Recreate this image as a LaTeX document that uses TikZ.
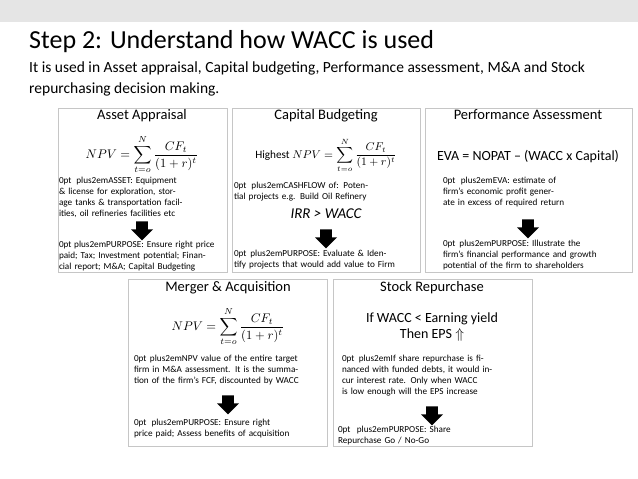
\documentclass[tikz,border=0pt]{standalone}
\usepackage{amsmath}
\usepackage{fontspec}
\setmainfont{Carlito}
\usetikzlibrary{shapes.arrows}
\tikzset{
	panel/.style   = {draw=gray!45, fill=white, line width=0.8pt},
	head/.style    = {font=\fontsize{14.5}{16}\selectfont, anchor=north, inner sep=1pt},
	body/.style    = {font=\fontsize{9.2}{11}\selectfont\hyphenpenalty=10000, align=center, text width=#1, inner sep=0pt},
	formula/.style = {scale=1.25, inner sep=0pt},
	downarrow/.style = {single arrow, fill=black, draw=none, shape border rotate=270,
		minimum height=19pt, minimum width=22pt, single arrow head extend=2pt, inner sep=2pt},
}
\newcommand{\npvsum}{\sum_{t=o}^{N}\frac{CF_t}{(1+r)^t}}

\begin{document}
\begin{tikzpicture}[x=1pt, y=-1pt]

    %-- Background and title --%
    \useasboundingbox (0,0) rectangle (638,479);
    \fill[gray!20] (0,0) rectangle (638,22);
    \node[anchor=west, inner sep=0pt, font=\fontsize{26}{30}\selectfont] (title) at (29,42) {Step 2: Understand how WACC is used};
    \node[anchor=north west, inner sep=0pt, align=left, font=\fontsize{15.5}{21}\selectfont] (intro) at (29,62)
      {It is used in Asset appraisal, Capital budgeting, Performance assessment, M\&A and Stock\\repurchasing decision making.};

    %-- Panels --%
    \draw[panel] (58,108) rectangle (227,272);
    \draw[panel] (232,108) rectangle (420,272);
    \draw[panel] (425,108) rectangle (632,272);
    \draw[panel] (128,279) rectangle (327,446);
    \draw[panel] (333,279) rectangle (532,446);

    % ASSET APPRAISAL %
    \node[head] (assetHead) at (142,108) {Asset Appraisal};
    \node[formula] (assetNpv) at (142,155) {$NPV=\displaystyle\npvsum$};
    \node[body=166pt] (assetText) at (142,197) {ASSET: Equipment \& license for exploration, storage tanks \& transportation facilities, oil refineries facilities etc};
    \node[downarrow] (assetArrow) at (142,228) {};
    \node[body=166pt] (assetGoal) at (142,256) {PURPOSE: Ensure right price paid; Tax; Investment potential; Financial report; M\&A; Capital Budgeting};

    % CAPITAL BUDGETING %
    \node[head] (budgetHead) at (326,108) {Capital Budgeting};
    \node[formula] (budgetNpv) at (326,155) {\fontsize{9}{11}\selectfont Highest $NPV=\displaystyle\npvsum$};
    \node[body=184pt] (budgetText) at (326,192) {CASHFLOW of: Potential projects e.g. Build Oil Refinery};
    \node[font=\fontsize{15}{17}\selectfont\itshape] (budgetRule) at (326,214) {IRR > WACC};
    \node[downarrow] (budgetArrow) at (326,236) {};
    \node[body=184pt] (budgetGoal) at (326,260) {PURPOSE: Evaluate \& Identify projects that would add value to Firm};

    % PERFORMANCE ASSESSMENT %
    \node[head] (perfHead) at (528,108) {Performance Assessment};
    \node[font=\fontsize{14}{16}\selectfont] (perfEva) at (528,157) {EVA = NOPAT -- (WACC x Capital)};
    \node[body=170pt] (perfText) at (528,192) {EVA: estimate of firm's economic profit generate in excess of required return};
    \node[downarrow] (perfArrow) at (528,226) {};
    \node[body=170pt] (perfGoal) at (528,255) {PURPOSE: Illustrate the firm's financial performance and growth potential of the firm to shareholders};

    % MERGER AND ACQUISITION %
    \node[head] (mergerHead) at (228,280) {Merger \& Acquisition};
    \node[formula] (mergerNpv) at (228,327) {$NPV=\displaystyle\npvsum$};
    \node[body=188pt] (mergerText) at (228,370) {NPV value of the entire target firm in M\&A assessment. It is the summation of the firm's FCF, discounted by WACC};
    \node[downarrow] (mergerArrow) at (228,402) {};
    \node[body=188pt] (mergerGoal) at (228,429) {PURPOSE: Ensure right price paid; Assess benefits of acquisition};

    % STOCK REPURCHASE %
    \node[head] (stockHead) at (432,280) {Stock Repurchase};
    \node[font=\fontsize{14}{16}\selectfont, align=center] (stockRule) at (432,327) {If WACC < Earning yield\\Then EPS $\Uparrow$};
    \node[body=180pt] (stockText) at (432,376) {If share repurchase is financed with funded debts, it would incur interest rate. Only when WACC is low enough will the EPS increase};
    \node[downarrow] (stockArrow) at (432,413) {};
    \node[body=188pt] (stockGoal) at (432,436) {PURPOSE: Share Repurchase Go / No-Go};

\end{tikzpicture}
\end{document}
